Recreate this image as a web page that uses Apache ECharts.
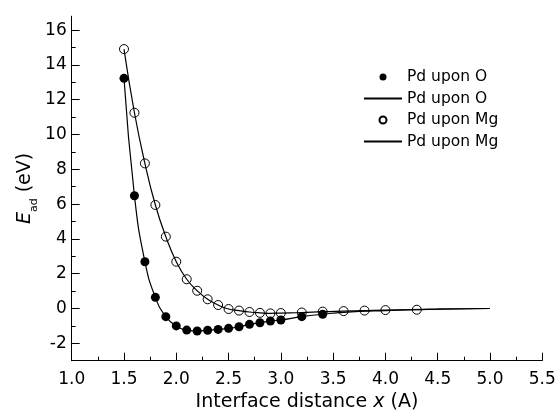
<!DOCTYPE html>
<html>
<head>
<meta charset="utf-8">
<title>Adhesion energy vs interface distance</title>
<script src="https://cdn.jsdelivr.net/npm/echarts@6/dist/echarts.min.js"></script>
<style>
  html, body { margin: 0; padding: 0; background: #fff; }
  #chart { width: 559px; height: 412px; }
</style>
</head>
<body>
<div id="chart"></div>
<script>
// Computed adhesion energies (eV) versus interface distance (Å)
const xO  = [1.5, 1.6, 1.7, 1.8, 1.9, 2.0, 2.1, 2.2, 2.3, 2.4, 2.5, 2.6, 2.7, 2.8, 2.9, 3.0, 3.2, 3.4];
const yO  = [13.23, 6.48, 2.69, 0.64, -0.47, -1.0, -1.24, -1.29, -1.25, -1.2, -1.14, -1.05, -0.91, -0.82, -0.72, -0.66, -0.47, -0.33];

const xMg = [1.5, 1.6, 1.7, 1.8, 1.9, 2.0, 2.1, 2.2, 2.3, 2.4, 2.5, 2.6, 2.7, 2.8, 2.9, 3.0, 3.2, 3.4, 3.6, 3.8, 4.0, 4.3];
const yMg = [14.91, 11.25, 8.34, 5.95, 4.13, 2.69, 1.68, 1.02, 0.53, 0.2, -0.03, -0.12, -0.2, -0.25, -0.28, -0.26, -0.23, -0.18, -0.15, -0.12, -0.09, -0.07];

// Long-range tails of the fitted curves
const tailXO  = [3.6, 4.0, 4.5, 5.0];
const tailYO  = [-0.22, -0.12, -0.04, 0.0];
const tailXMg = [4.5, 5.0];
const tailYMg = [-0.04, 0.0];

// Axis tick values
const yMajorTicks = [-2, 0, 2, 4, 6, 8, 10, 12, 14, 16];
const yMinorTicks = [-3, -1, 1, 3, 5, 7, 9, 11, 13, 15];

const pairs = (xs, ys) => xs.map((x, i) => [x, ys[i]]);

const pointsO  = pairs(xO, yO);
const pointsMg = pairs(xMg, yMg);
const fitO  = pointsO.concat(pairs(tailXO, tailYO));
const fitMg = pointsMg.concat(pairs(tailXMg, tailYMg));

const FONT = 'DejaVu Sans';
const labels = {
  pO: 'Pd upon O', fO: 'Pd upon O',
  pMg: 'Pd upon Mg', fMg: 'Pd upon Mg'
};

const chart = echarts.init(document.getElementById('chart'), null, { renderer: 'canvas' });

const yBase = {
  type: 'value',
  min: -3,
  max: 16.8,
  position: 'left',
  splitLine: { show: false },
  axisLine: { show: true, lineStyle: { color: '#000', width: 1 } }
};

chart.setOption({
  animation: false,
  backgroundColor: '#fff',
  grid: { left: 71.7, right: 16.7, top: 16.2, bottom: 51.3, outerBoundsMode: 'none', containLabel: false },
  textStyle: { fontFamily: FONT },
  legend: {
    orient: 'vertical',
    left: 363,
    top: 69,
    padding: 0,
    itemWidth: 38,
    itemHeight: 7,
    itemGap: 5.5,
    selectedMode: false,
    textStyle: { fontFamily: FONT, fontSize: 15.5, color: '#000' },
    formatter: name => labels[name],
    data: [
      { name: 'pO' },
      { name: 'fO', itemStyle: { opacity: 0 } },
      { name: 'pMg' },
      { name: 'fMg', itemStyle: { opacity: 0 } }
    ]
  },
  xAxis: {
    type: 'value',
    min: 1.0,
    max: 5.5,
    interval: 0.5,
    name: 'Interface distance {i|x} (A)',
    nameLocation: 'middle',
    nameGap: 32,
    nameMoveOverlap: false,
    nameTextStyle: {
      fontFamily: FONT, fontSize: 19, color: '#000',
      rich: { i: { fontFamily: FONT, fontSize: 19, fontStyle: 'italic', color: '#000' } }
    },
    splitLine: { show: false },
    axisLine: { onZero: false, lineStyle: { color: '#000', width: 1 } },
    axisTick: { inside: true, length: 8, lineStyle: { color: '#000' } },
    minorTick: { show: true, splitNumber: 2, length: 4, lineStyle: { color: '#000' } },
    axisLabel: {
      color: '#000', fontFamily: FONT, fontSize: 17, margin: 10,
      formatter: v => v.toFixed(1)
    }
  },
  yAxis: [
    Object.assign({}, yBase, {
      name: '{i|E}{sub|ad} (eV)',
      nameLocation: 'middle',
      nameRotate: 90,
      nameGap: 37,
      nameMoveOverlap: false,
      nameTextStyle: {
        fontFamily: FONT, fontSize: 19, color: '#000',
        rich: {
          i: { fontFamily: FONT, fontSize: 19, fontStyle: 'italic', color: '#000' },
          sub: { fontFamily: FONT, fontSize: 11, color: '#000', verticalAlign: 'bottom', padding: [0, 0, -5, 0] }
        }
      },
      axisTick: { inside: true, length: 8, customValues: yMajorTicks, lineStyle: { color: '#000' } },
      axisLabel: { customValues: yMajorTicks, color: '#000', fontFamily: FONT, fontSize: 17, margin: 5 }
    }),
    Object.assign({}, yBase, {
      axisLine: { show: false },
      axisTick: { inside: true, length: 4, customValues: yMinorTicks, lineStyle: { color: '#000' } },
      axisLabel: { show: false }
    })
  ],
  series: [
    {
      name: 'fO', type: 'line', data: fitO, smooth: true, symbol: 'none',
      lineStyle: { color: '#000', width: 1.2 }, itemStyle: { color: '#000' }, z: 1
    },
    {
      name: 'fMg', type: 'line', data: fitMg, smooth: true, symbol: 'none',
      lineStyle: { color: '#000', width: 1.2 }, itemStyle: { color: '#000' }, z: 1
    },
    {
      name: 'pO', type: 'scatter', data: pointsO, symbol: 'circle', symbolSize: 9,
      itemStyle: { color: '#000', opacity: 1 }, z: 3
    },
    {
      name: 'pMg', type: 'scatter', data: pointsMg, symbol: 'circle', symbolSize: 9,
      itemStyle: { color: 'rgba(255,255,255,0)', borderColor: '#000', borderWidth: 1, opacity: 1 }, z: 4
    }
  ]
});
</script>
</body>
</html>
